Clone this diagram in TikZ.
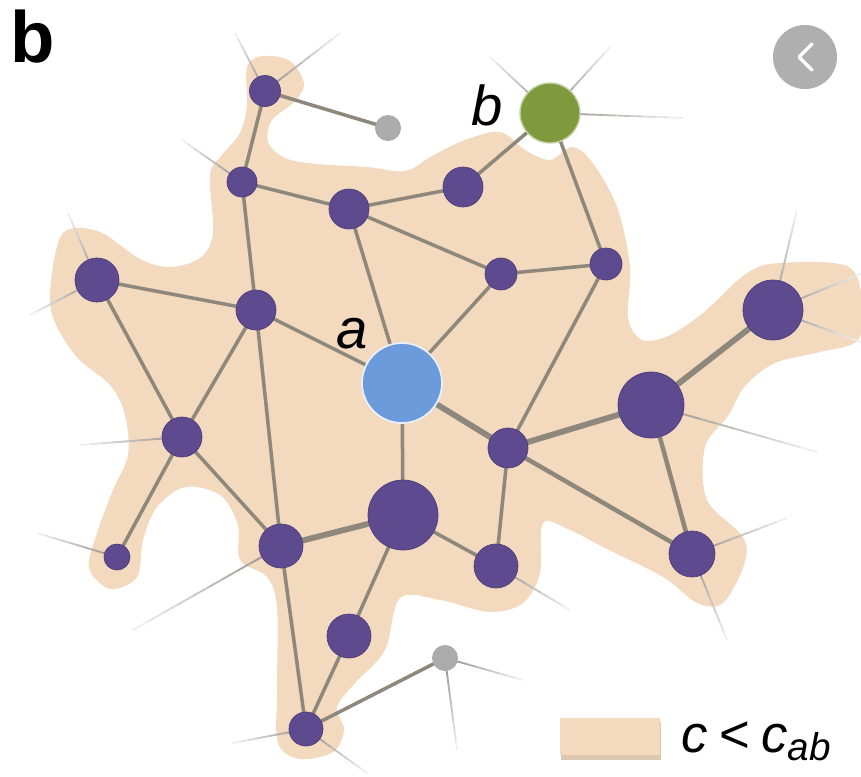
\documentclass[tikz,border=0pt]{standalone}
\usepackage{fontspec}
\setmainfont{Liberation Sans}
\usetikzlibrary{calc}
\pgfdeclarelayer{bg}
\pgfdeclarelayer{edges}
\pgfsetlayers{bg,edges,main}
\definecolor{tan}{HTML}{F3D9BE}
\definecolor{purp}{HTML}{5E4A8E}
\definecolor{purpd}{HTML}{4E3D7A}
\definecolor{bluea}{HTML}{6B9BDB}
\definecolor{greenb}{HTML}{7E9A3C}
\definecolor{edgec}{HTML}{8E877C}
\definecolor{stubc}{HTML}{8F8A86}
\definecolor{grayn}{HTML}{ABABAB}
\tikzset{
  pn/.style={circle, fill=purp, draw=purpd, line width=0.6pt, inner sep=0pt, minimum size=#1*0.06cm},
  gn/.style={circle, fill=grayn, inner sep=0pt, minimum size=#1*0.06cm},
  edge/.style={draw=edgec, line width=3pt},
  thickedge/.style={draw=edgec, line width=5pt},
  midedge/.style={draw=edgec, line width=3.8pt},
  lbl/.style={font=\fontsize{48}{48}\selectfont\itshape, inner sep=0pt}
}
\begin{document}
\begin{tikzpicture}[x=0.03cm, y=-0.03cm]
\useasboundingbox (0,0) rectangle (861,776);
% nodes
\node[pn=15.5] (n1) at (265,91) {};
\node[gn=13] (g1) at (388,128) {};
\node[pn=15] (n2) at (242,182) {};
\node[pn=20] (n3) at (349,209) {};
\node[pn=20] (n4) at (463,187) {};
\node[circle, fill=greenb, draw=greenb!45!white, line width=1.2pt, inner sep=0pt, minimum size=1.8cm] (b) at (550,113) {};
\node[pn=16] (n5) at (501,274) {};
\node[pn=16] (n6) at (606,264) {};
\node[pn=22] (n7) at (97,280) {};
\node[pn=20] (n8) at (256,310) {};
\node[circle, fill=bluea, draw=white!85!bluea, line width=1.5pt, inner sep=0pt, minimum size=2.4cm] (a) at (402,383) {};
\node[pn=30] (n9) at (773,310) {};
\node[pn=33] (n10) at (651,405) {};
\node[pn=20] (n11) at (508,448) {};
\node[pn=20] (n12) at (182,437) {};
\node[pn=35] (n13) at (403,515) {};
\node[pn=22] (n14) at (281,546) {};
\node[pn=22] (n15) at (496,566) {};
\node[pn=23] (n16) at (692,554) {};
\node[pn=13] (n17) at (117,557) {};
\node[pn=22] (n18) at (349,636) {};
\node[gn=13] (g2) at (445,658) {};
\node[pn=17] (n19) at (306,729) {};
% stub ends
\coordinate (s1a) at (235,33); \coordinate (s1b) at (340,33);
\coordinate (s2) at (182,140);
\coordinate (s7a) at (68,213); \coordinate (s7b) at (30,315);
\coordinate (sba) at (490,57); \coordinate (sbb) at (610,47); \coordinate (sbc) at (683,118);
\coordinate (s9a) at (797,210); \coordinate (s9b) at (865,272); \coordinate (s9c) at (861,342);
\coordinate (s10) at (817,452);
\coordinate (s16a) at (787,518); \coordinate (s16b) at (727,640);
\coordinate (s15) at (570,610);
\coordinate (sg2a) at (523,680); \coordinate (sg2b) at (457,750);
\coordinate (s12) at (80,445);
\coordinate (s17) at (37,533);
\coordinate (s14) at (133,630);
\coordinate (s19a) at (233,743); \coordinate (s19b) at (367,773);
% blob
\begin{pgfonlayer}{bg}
\fill[tan] plot[smooth cycle, tension=0.55] coordinates {
(247,67) (263,56) (290,61) (304,84) (293,103) (272,120) (268,142) (285,158)
(317,164) (367,167) (405,171) (432,156) (465,140) (500,132) (525,150) (550,160)
(572,147) (592,162) (617,207) (630,267) (628,318) (642,340) (668,336) (703,313)
(747,273) (780,263) (847,266) (862,300) (858,340) (820,352) (775,363) (745,386)
(728,416) (705,447) (707,500) (743,537) (744,565) (723,603) (697,603) (663,577)
(603,547) (570,530) (543,523) (540,573) (523,603) (490,612) (440,600) (400,598)
(385,650) (355,683) (337,707) (344,730) (333,752) (300,759) (278,743) (277,690)
(277,607) (267,577) (240,560) (238,525) (220,495) (185,487) (157,507) (143,540)
(137,577) (110,589) (89,568) (97,533) (113,490) (128,455) (125,415) (110,385)
(75,355) (51,310) (55,255) (67,230) (100,232) (140,259) (170,267) (200,258)
(213,233) (210,175) (222,155) (240,133) (247,105)};
\end{pgfonlayer}
% edges
\begin{pgfonlayer}{edges}
\foreach \u/\v in {n1/s1a, n1/s1b, n2/s2, n7/s7a, n7/s7b, b/sba, b/sbb, b/sbc,
  n9/s9a, n9/s9b, n9/s9c, n10/s10, n16/s16a, n16/s16b, n15/s15, g2/sg2a, g2/sg2b,
  n12/s12, n17/s17, n14/s14, n19/s19a, n19/s19b}
  \foreach \i in {0,...,9} {
    \pgfmathsetmacro{\ta}{\i/10}
    \pgfmathsetmacro{\tb}{(\i+1)/10}
    \pgfmathsetmacro{\sh}{95-\i*9}
    \draw[draw=stubc!\sh!white, line width=1.6pt] ($(\u.center)!\ta!(\v)$) -- ($(\u.center)!\tb!(\v)$);
  }
\foreach \u/\v in {n1/g1, n1/n2, n2/n3, n2/n8, n3/n4, n3/n5, n3/a, n4/b, b/n6,
  n5/n6, n5/a, n6/n11, n7/n8, n7/n12, n8/a, n8/n12, n8/n14, a/n13, n11/n15,
  n13/n15, n13/n18, n12/n17, n12/n14, n14/n19, n18/n19, n19/g2}
  \draw[edge] (\u.center) -- (\v.center);
\foreach \u/\v in {a/n11, n11/n10, n10/n9, n13/n14}
  \draw[thickedge] (\u.center) -- (\v.center);
\foreach \u/\v in {n10/n16, n11/n16}
  \draw[midedge] (\u.center) -- (\v.center);
\end{pgfonlayer}
% labels
\node[lbl, anchor=base] (la) at (352,348) {a};
\node[lbl, anchor=base] (lb) at (487,125) {b};
\node[font=\fontsize{62}{62}\selectfont\bfseries, inner sep=0pt, anchor=base west] (panel) at (10,62) {b};
% button
\node[circle, fill=grayn!95!white, inner sep=0pt, minimum size=1.92cm] (btn) at (805,57) {};
\draw[white, line width=3pt, line cap=round, line join=round] ($(btn.center)+(7,-13)$) -- ($(btn.center)+(-6,0)$) -- ($(btn.center)+(7,13)$);
% legend
\fill[tan!80!gray] (561,722) rectangle (661,760);
\node[fill=tan, minimum width=3cm, minimum height=1.1cm, inner sep=0pt, anchor=north west] (leg) at (560,718) {};
\node[anchor=base west, inner sep=0pt, font=\fontsize{45}{45}\selectfont] (legt) at (681,752) {\itshape c\/\hspace{0.22em}\upshape<\hspace{0.22em}\itshape c\raisebox{-0.3ex}{\fontsize{33}{33}\selectfont ab}};
\end{tikzpicture}
\end{document}
